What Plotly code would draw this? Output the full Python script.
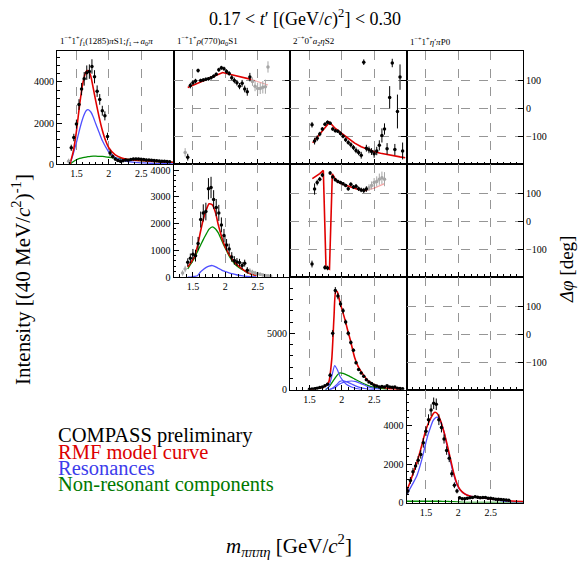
import plotly.graph_objects as go

W, H = 578, 565
COLS = [57, 173.5, 290, 406.5, 523]
ROWS = [52, 166, 280, 394, 508]
MRANGE = [1.2, 3.0]
PRANGE = [-197, 203]
FONT = "Liberation Serif"
RED = "rgb(225,0,0)"
PALE_RED = "rgba(225,0,0,0.35)"
BLUE = "rgb(80,80,255)"
GREEN = "rgb(0,140,0)"
GRAY = "rgb(165,165,165)"

# ---------------- data ----------------
# intensity: 1-+1+ f1(1285) pi S1
f1_m = [1.42, 1.46, 1.50, 1.54, 1.58, 1.62, 1.66, 1.70, 1.74, 1.78, 1.82, 1.86, 1.90, 1.94, 1.98,
        2.02, 2.06, 2.10, 2.14, 2.18, 2.22, 2.26, 2.30, 2.34, 2.38, 2.42, 2.46, 2.50, 2.54, 2.58,
        2.62, 2.66, 2.70, 2.74, 2.78, 2.82, 2.86, 2.90, 2.94]
f1_int = [800, 1300, 1950, 2900, 3650, 4150, 4450, 4500, 4750, 4250, 3550, 3150, 2600, 2350, 1350,
          550, 380, 250, 180, 150, 170, 200, 190, 230, 250, 260, 250, 240, 230, 210,
          200, 190, 180, 170, 160, 150, 140, 130, 120]
f1_err = [150, 180, 220, 260, 300, 330, 350, 350, 350, 320, 280, 260, 240, 220, 180,
          150, 100, 80, 70, 60, 60, 60, 60, 60, 60, 60, 60, 60, 60, 60,
          50, 50, 50, 50, 50, 50, 50, 50, 50]
f1_gm = [1.38]
f1_gint = [150]
f1_gerr = [120]
f1_cm = [1.40, 1.45, 1.50, 1.55, 1.60, 1.65, 1.68, 1.72, 1.76, 1.80, 1.85, 1.90, 1.95, 2.00,
         2.10, 2.20, 2.30, 2.40, 2.50, 2.60, 2.70, 2.80, 2.90, 3.00]
f1_red = [0, 600, 1600, 2900, 3950, 4500, 4550, 4300, 3700, 3050, 2300, 1650, 1150, 800,
          450, 300, 230, 200, 180, 160, 140, 120, 110, 100]
f1_blue = [0, 500, 1050, 1700, 2250, 2600, 2650, 2550, 2300, 1950, 1550, 1150, 850, 600,
           330, 200, 130, 95, 70, 55, 40, 30, 25, 20]
f1_green = [0, 120, 220, 280, 320, 350, 365, 380, 390, 390, 385, 380, 360, 340,
            300, 260, 230, 200, 170, 150, 130, 110, 100, 90]

# phase: rho(770)a0 S1 vs f1 pi S1
p12_m = [1.42, 1.46, 1.50, 1.54, 1.58, 1.62, 1.66, 1.70, 1.74, 1.78, 1.82, 1.86, 1.90, 1.94, 1.98,
         2.02, 2.06, 2.10, 2.14, 2.18, 2.22, 2.26, 2.30, 2.34, 2.38]
p12_phi = [-172, 82, 92, 98, 135, 100, 102, 104, 106, 110, 115, 122, 138, 145, 142,
           132, 125, 110, 100, 92, 80, 90, 70, 60, 112]
p12_err = [12, 10, 8, 8, 7, 6, 6, 6, 6, 6, 6, 6, 7, 7, 7,
           8, 8, 9, 10, 10, 11, 12, 12, 14, 15]
p12_gm = [1.38, 2.42, 2.46, 2.50, 2.54, 2.58, 2.62, 2.66]
p12_gphi = [-155, 96, 80, 72, 72, 76, 78, 148]
p12_gerr = [15, 15, 18, 20, 20, 22, 25, 20]
p12_cm = [1.42, 1.60, 1.80, 1.96, 2.10, 2.25, 2.40]
p12_red = [75, 93, 113, 128, 120, 112, 104]
p12_xm = [2.40, 2.66]
p12_xred = [104, 84]

# phase: a2 eta S2 vs f1 pi S1
p13_m = [1.54, 1.58, 1.62, 1.66, 1.70, 1.74, 1.78, 1.82, 1.86, 1.90, 1.94, 1.98, 2.02, 2.06, 2.10,
         2.14, 2.18, 2.22, 2.26, 2.30, 2.34, 2.38, 2.42, 2.46, 2.50, 2.54, 2.58, 2.62, 2.66, 2.70,
         2.74, 2.78, 2.82, 2.86, 2.90, 2.94]
p13_phi = [-57, -115, -105, -90, -72, -55, -48, -52, -72, -78, -80, -88, -98, -110, -120,
           -128, -138, -148, -155, -165, 165, -140, -146, -152, -160, -150, -130, -95, -72, -142,
           40, 162, -145, -10, 112, -150]
p13_err = [10, 12, 10, 8, 7, 6, 6, 6, 6, 6, 6, 7, 7, 8, 8,
           9, 9, 10, 10, 12, 10, 12, 12, 12, 14, 15, 18, 25, 20, 20,
           40, 15, 20, 60, 45, 30]
p13_cm = [1.55, 1.65, 1.75, 1.81, 1.90, 2.00, 2.10, 2.20, 2.30, 2.40, 2.50, 2.60, 2.70, 2.80, 2.90, 2.98]
p13_red = [-121, -95, -65, -48, -70, -88, -105, -122, -135, -145, -153, -158, -163, -167, -171, -174]

# intensity: 1-+1+ rho(770) a0 S1
rho_m = [1.42, 1.46, 1.50, 1.54, 1.58, 1.62, 1.66, 1.70, 1.74, 1.78, 1.82, 1.86, 1.90, 1.94, 1.98,
         2.02, 2.06, 2.10, 2.14, 2.18, 2.22, 2.26, 2.30, 2.34]
rho_int = [550, 700, 850, 800, 1250, 2150, 2400, 2450, 3300, 3350, 2900, 2600, 2400, 1950, 1550,
           1200, 1050, 750, 620, 560, 540, 430, 520, 250]
rho_err = [150, 180, 200, 220, 250, 300, 320, 330, 400, 400, 350, 320, 300, 280, 250,
           220, 200, 180, 160, 150, 140, 130, 130, 120]
rho_gm = [1.34, 1.38, 2.38, 2.42, 2.46, 2.50, 2.54, 2.58, 2.62, 2.66, 2.70]
rho_gint = [150, 300, 230, 180, 150, 120, 100, 80, 60, 50, 40]
rho_gerr = [100, 120, 100, 90, 80, 70, 60, 50, 50, 40, 40]
rho_cm = [1.42, 1.47, 1.52, 1.57, 1.62, 1.66, 1.70, 1.75, 1.80, 1.85, 1.89, 1.93, 1.97, 2.02,
          2.07, 2.12, 2.17, 2.25, 2.33, 2.40, 2.48]
rho_red = [370, 550, 740, 1150, 1730, 2150, 2470, 2740, 2700, 2400, 1970, 1620, 1300, 1020,
           800, 620, 490, 320, 185, 110, 60]
rho_green = [300, 500, 700, 950, 1200, 1400, 1580, 1790, 1880, 1800, 1660, 1450, 1230, 980,
             740, 570, 430, 290, 185, 110, 60]
rho_blue = [0, 0, 20, 50, 200, 280, 350, 410, 430, 380, 330, 280, 230, 190,
            150, 115, 85, 50, 25, 15, 5]

# phase: a2 eta S2 vs rho(770) a0 S1
p23_m = [1.54, 1.58, 1.62, 1.66, 1.70, 1.74, 1.78, 1.82, 1.86, 1.90, 1.94, 1.98, 2.02, 2.06, 2.10,
         2.14, 2.18, 2.22, 2.26, 2.30, 2.34, 2.38]
p23_phi = [-151, 115, 138, 150, 165, -163, -165, 172, 158, 148, 142, 138, 134, 128, 116,
           132, 122, 125, 116, 112, 110, 115]
p23_err = [12, 20, 10, 8, 8, 8, 8, 7, 6, 6, 6, 6, 6, 6, 7,
           7, 7, 8, 8, 8, 9, 10]
p23_gm = [2.42, 2.46, 2.50, 2.54, 2.58, 2.62, 2.66]
p23_gphi = [120, 128, 138, 142, 150, 155, 150]
p23_gerr = [12, 14, 16, 18, 20, 22, 25]
p23_cm = [1.545, 1.60, 1.66, 1.715, 1.756, 1.81, 1.854, 1.90, 1.95, 2.02, 2.08, 2.15, 2.23, 2.30, 2.38]
p23_red = [152, 160, 170, 181, -163, -169, 169, 150, 139, 132, 127, 121, 115, 112, 110]
p23_xm = [2.38, 2.50, 2.66]
p23_xred = [110, 118, 134]

# intensity: 2-+0+ a2 eta S2
a2_m = [1.50, 1.54, 1.58, 1.62, 1.66, 1.70, 1.74, 1.78, 1.82, 1.86, 1.90, 1.94, 1.98, 2.02, 2.06,
        2.10, 2.14, 2.18, 2.22, 2.26, 2.30, 2.34, 2.38, 2.42, 2.46, 2.50, 2.54, 2.58, 2.62, 2.66,
        2.70, 2.74, 2.78, 2.82, 2.86, 2.90, 2.94]
a2_int = [50, 80, 100, 150, 200, 250, 350, 500, 1300, 5000, 8800, 8300, 7600, 7000, 6000,
          5000, 4200, 3500, 2400, 1800, 1500, 1200, 900, 700, 550, 400, 330, 250, 300, 260,
          350, 250, 220, 250, 150, 120, 100]
a2_err = [30, 40, 50, 60, 70, 80, 90, 100, 200, 300, 300, 280, 260, 240, 220,
          200, 180, 160, 140, 120, 110, 100, 90, 80, 70, 60, 60, 60, 60, 60,
          60, 60, 60, 60, 60, 60, 60]
a2_cm = [1.50, 1.60, 1.70, 1.76, 1.80, 1.845, 1.88, 1.906, 1.93, 1.97, 2.01, 2.05, 2.09, 2.13,
         2.20, 2.25, 2.31, 2.41, 2.54, 2.72, 2.90]
a2_red = [60, 120, 200, 400, 700, 2690, 6490, 8680, 8700, 7800, 7000, 6200, 5300, 4450,
          2830, 2100, 1520, 790, 350, 115, 50]
a2_b1m = [1.75, 1.80, 1.85, 1.89, 1.93, 1.97, 2.02, 2.07, 2.15, 2.22, 2.30]
a2_b1 = [0, 300, 1300, 2150, 1800, 1230, 800, 500, 250, 115, 30]
a2_b2m = [1.80, 1.90, 1.95, 2.00, 2.07, 2.15, 2.22, 2.28, 2.35, 2.41, 2.50, 2.60]
a2_b2 = [0, 200, 450, 600, 720, 780, 720, 590, 420, 260, 120, 40]
a2_b3m = [1.80, 1.86, 1.92, 1.97, 2.02, 2.08, 2.15, 2.22, 2.30, 2.40, 2.50]
a2_b3 = [0, 150, 450, 750, 800, 700, 520, 330, 170, 70, 20]
a2_gm = [1.75, 1.82, 1.88, 1.93, 1.97, 2.02, 2.10, 2.20, 2.30, 2.40, 2.50, 2.60, 2.70]
a2_green = [0, 400, 900, 1300, 1500, 1450, 1250, 950, 650, 400, 220, 120, 60]

# intensity: 1-+1+ eta' pi P0
ep_m = [1.22, 1.26, 1.30, 1.34, 1.38, 1.42, 1.46, 1.50, 1.54, 1.58, 1.62, 1.66, 1.70, 1.74, 1.78,
        1.82, 1.86, 1.90, 1.94, 1.98, 2.02, 2.06, 2.10, 2.14, 2.18, 2.22, 2.26, 2.30, 2.34, 2.38,
        2.42, 2.46, 2.50, 2.54, 2.58, 2.62, 2.66, 2.70, 2.74, 2.78]
ep_int = [600, 1150, 1600, 1900, 2200, 2500, 3100, 3700, 4300, 4800, 5150, 5100, 4300, 3900, 3300,
          2700, 2300, 1500, 900, 600, 250, 200, 200, 220, 250, 270, 300, 280, 250, 260,
          270, 230, 220, 200, 180, 170, 160, 150, 140, 120]
ep_err = [150, 180, 200, 200, 220, 220, 250, 250, 280, 300, 300, 300, 280, 260, 240,
          220, 200, 180, 150, 120, 80, 60, 60, 60, 60, 60, 60, 60, 60, 60,
          60, 60, 50, 50, 50, 50, 50, 50, 50, 50]
ep_cm = [1.20, 1.25, 1.30, 1.365, 1.43, 1.49, 1.53, 1.57, 1.61, 1.64, 1.675, 1.725, 1.78, 1.83,
         1.88, 1.93, 1.98, 2.03, 2.10, 2.19, 2.30, 2.45, 2.60, 2.76, 2.90, 3.00]
ep_red = [600, 1000, 1500, 2120, 2900, 3660, 4050, 4345, 4600, 4685, 4620, 4260, 3650, 2975,
          2250, 1520, 980, 667, 450, 325, 270, 220, 160, 100, 70, 60]
ep_blue = [400, 700, 1000, 1435, 2150, 2975, 3500, 3900, 4250, 4380, 4430, 4200, 3660, 2900,
           2120, 1450, 925, 650, 450, 330, 260, 210, 140, 50, 30, 20]
ep_green = [70, 70, 70, 70, 70, 70, 70, 70, 70, 70, 70, 70, 65, 60,
            55, 50, 40, 25, 15, 10, 8, 5, 5, 5, 5, 5]

# text
TITLE = "0.17 &lt; <i>t</i>′ [(GeV/<i>c</i>)<sup>2</sup>] &lt; 0.30"
WAVES = ["1<sup>−+</sup>1<sup>+</sup><i>f</i><sub>1</sub>(1285)<i>π</i>S1;<i>f</i><sub>1</sub>→<i>a</i><sub>0</sub><i>π</i>",
         "1<sup>−+</sup>1<sup>+</sup><i>ρ</i>(770)<i>a</i><sub>0</sub>S1",
         "2<sup>−+</sup>0<sup>+</sup><i>a</i><sub>2</sub><i>η</i>S2",
         "1<sup>−+</sup>1<sup>+</sup><i>η</i>′<i>π</i>P0"]
YTITLE = "Intensity [(40 MeV/<i>c</i><sup>2</sup>)<sup>-1</sup>]"
PTITLE = "<i>Δφ</i> [deg]"
XTITLE = "<i>m</i><sub><i>πππη</i></sub> [GeV/<i>c</i><sup>2</sup>]"
LEGEND = [("COMPASS preliminary", "black"), ("RMF model curve", "rgb(220,0,0)"),
          ("Resonances", "rgb(60,60,235)"), ("Non-resonant components", "rgb(0,120,0)")]

# ---------------- figure ----------------
fig = go.Figure()

# panels: (axis index, row, col, kind, ymax, yticks)
panels = [
    (1, 0, 0, "int", 5480, [0, 2000, 4000]),
    (2, 0, 1, "phase", None, None),
    (3, 0, 2, "phase", None, None),
    (4, 0, 3, "phase", None, None),
    (5, 1, 1, "int", 4220, [0, 1000, 2000, 3000, 4000]),
    (6, 1, 2, "phase", None, None),
    (7, 1, 3, "phase", None, None),
    (8, 2, 2, "int", 9990, [0, 5000]),
    (9, 2, 3, "phase", None, None),
    (10, 3, 3, "int", 5850, [0, 2000, 4000]),
]

tickfont = dict(family=FONT, size=10, color="black")
layout = {}
for idx, r, c, kind, ymax, yt in panels:
    xn = "xaxis" if idx == 1 else f"xaxis{idx}"
    yn = "yaxis" if idx == 1 else f"yaxis{idx}"
    xa = "x" if idx == 1 else f"x{idx}"
    ya = "y" if idx == 1 else f"y{idx}"
    layout[xn] = dict(
        domain=[COLS[c] / W, COLS[c + 1] / W], anchor=ya, range=MRANGE,
        tickvals=[1.5, 2, 2.5], ticktext=["1.5", "2", "2.5"],
        showticklabels=(kind == "int"), tickfont=tickfont,
        showgrid=True, gridcolor="rgb(150,150,150)", griddash="dash", gridwidth=1,
        ticks="inside", ticklen=5, tickcolor="black",
        minor=dict(tickmode="linear", tick0=1.2, dtick=0.1, ticks="inside", ticklen=2.5,
                   tickcolor="black", showgrid=False),
        showline=True, linecolor="black", linewidth=1.2, mirror=True, zeroline=False,
        fixedrange=True)
    if kind == "int":
        layout[yn] = dict(
            domain=[1 - ROWS[r + 1] / H, 1 - ROWS[r] / H], anchor=xa, range=[0, ymax],
            tickvals=yt, ticktext=[str(v) for v in yt], tickfont=tickfont,
            showgrid=False, ticks="inside", ticklen=5, tickcolor="black",
            minor=dict(tickmode="linear", tick0=0, dtick=(yt[1] - yt[0]) / 5, ticks="inside",
                       ticklen=2.5, tickcolor="black", showgrid=False),
            showline=True, linecolor="black", linewidth=1.2, mirror=True, zeroline=False,
            fixedrange=True)
    else:
        layout[yn] = dict(
            domain=[1 - ROWS[r + 1] / H, 1 - ROWS[r] / H], anchor=xa, range=PRANGE,
            tickvals=[-100, 0, 100], ticktext=["−100", "0", "100"], tickfont=tickfont,
            showticklabels=(c == 3), side="right",
            showgrid=True, gridcolor="rgb(150,150,150)", griddash="dash", gridwidth=1,
            ticks="inside", ticklen=5, tickcolor="black",
            showline=True, linecolor="black", linewidth=1.2, mirror=True, zeroline=False,
            fixedrange=True)


def ax(idx):
    return ("x" if idx == 1 else f"x{idx}"), ("y" if idx == 1 else f"y{idx}")


def points(idx, m, v, e, color="black"):
    xa, ya = ax(idx)
    fig.add_trace(go.Scatter(
        x=m, y=v, xaxis=xa, yaxis=ya, mode="markers",
        marker=dict(color=color, size=3.5),
        error_y=dict(type="data", array=e, visible=True, color=color, thickness=1, width=0),
        error_x=dict(type="constant", value=0.012, visible=True, color=color, thickness=1, width=0),
        hoverinfo="skip"))


def curve(idx, m, v, color, width=1.5, spline=True):
    xa, ya = ax(idx)
    line = dict(color=color, width=width)
    if spline:
        line.update(shape="spline", smoothing=0.6)
    fig.add_trace(go.Scatter(x=m, y=v, xaxis=xa, yaxis=ya, mode="lines", line=line,
                             hoverinfo="skip"))


# panel 1
curve(1, f1_cm, f1_green, GREEN, 1.3)
curve(1, f1_cm, f1_blue, BLUE, 1.3)
curve(1, f1_cm, f1_red, RED, 1.6)
points(1, f1_gm, f1_gint, f1_gerr, GRAY)
points(1, f1_m, f1_int, f1_err)

# panel 2 (phase)
curve(2, p12_xm, p12_xred, PALE_RED, 1.3, False)
curve(2, p12_cm, p12_red, RED, 1.6, False)
points(2, p12_gm, p12_gphi, p12_gerr, GRAY)
points(2, p12_m, p12_phi, p12_err)

# panel 3 (phase)
curve(3, p13_cm, p13_red, RED, 1.6, False)
points(3, p13_m, p13_phi, p13_err)

# panel 5 (rho intensity)
curve(5, rho_cm, rho_green, GREEN, 1.3)
curve(5, rho_cm, rho_blue, BLUE, 1.3)
curve(5, rho_cm, rho_red, RED, 1.6)
points(5, rho_gm, rho_gint, rho_gerr, GRAY)
points(5, rho_m, rho_int, rho_err)

# panel 6 (phase)
curve(6, p23_xm, p23_xred, PALE_RED, 1.3, False)
curve(6, p23_cm, p23_red, RED, 1.6, False)
points(6, p23_gm, p23_gphi, p23_gerr, GRAY)
points(6, p23_m, p23_phi, p23_err)

# panel 8 (a2 intensity)
curve(8, a2_gm, a2_green, GREEN, 1.3)
curve(8, a2_b1m, a2_b1, BLUE, 1.2)
curve(8, a2_b2m, a2_b2, BLUE, 1.2)
curve(8, a2_b3m, a2_b3, BLUE, 1.2)
curve(8, a2_cm, a2_red, RED, 1.6)
points(8, a2_m, a2_int, a2_err)

# panel 10 (eta' intensity)
curve(10, ep_cm, ep_green, GREEN, 1.3)
curve(10, ep_cm, ep_blue, BLUE, 1.3)
curve(10, ep_cm, ep_red, RED, 1.6)
points(10, ep_m, ep_int, ep_err)

# empty phase panels
for idx in (4, 7, 9):
    xa, ya = ax(idx)
    fig.add_trace(go.Scatter(x=[None], y=[None], xaxis=xa, yaxis=ya, mode="markers",
                             hoverinfo="skip"))

ann = []
ann.append(dict(text=TITLE, x=305 / W, y=1 - 18 / H, xref="paper", yref="paper",
                xanchor="center", yanchor="middle", showarrow=False,
                font=dict(family=FONT, size=18, color="black")))
for c, t in enumerate(WAVES):
    ann.append(dict(text=t, x=(COLS[c] + 1) / W, y=1 - 50 / H, xref="paper", yref="paper",
                    xanchor="left", yanchor="bottom", showarrow=False,
                    font=dict(family=FONT, size=9, color="black")))
ann.append(dict(text=YTITLE, x=22 / W, y=1 - 283 / H, xref="paper", yref="paper",
                xanchor="center", yanchor="middle", textangle=-90, showarrow=False,
                font=dict(family=FONT, size=21, color="black")))
ann.append(dict(text=PTITLE, x=566 / W, y=1 - 272 / H, xref="paper", yref="paper",
                xanchor="center", yanchor="middle", textangle=-90, showarrow=False,
                font=dict(family=FONT, size=19, color="black")))
ann.append(dict(text=XTITLE, x=289 / W, y=1 - 551 / H, xref="paper", yref="paper",
                xanchor="center", yanchor="middle", showarrow=False,
                font=dict(family=FONT, size=21, color="black")))
for i, (t, col) in enumerate(LEGEND):
    ann.append(dict(text=t, x=56 / W, y=1 - (440 + 16.6 * i) / H, xref="paper", yref="paper",
                    xanchor="left", yanchor="middle", showarrow=False,
                    font=dict(family=FONT, size=20.5, color=col)))

fig.update_layout(
    width=W, height=H, margin=dict(l=0, r=0, t=0, b=0),
    paper_bgcolor="white", plot_bgcolor="white", showlegend=False,
    annotations=ann, **layout)

fig.write_html("out.html", config={"displayModeBar": False},
               post_script="document.body.style.margin='0';document.body.style.overflow='hidden';")
